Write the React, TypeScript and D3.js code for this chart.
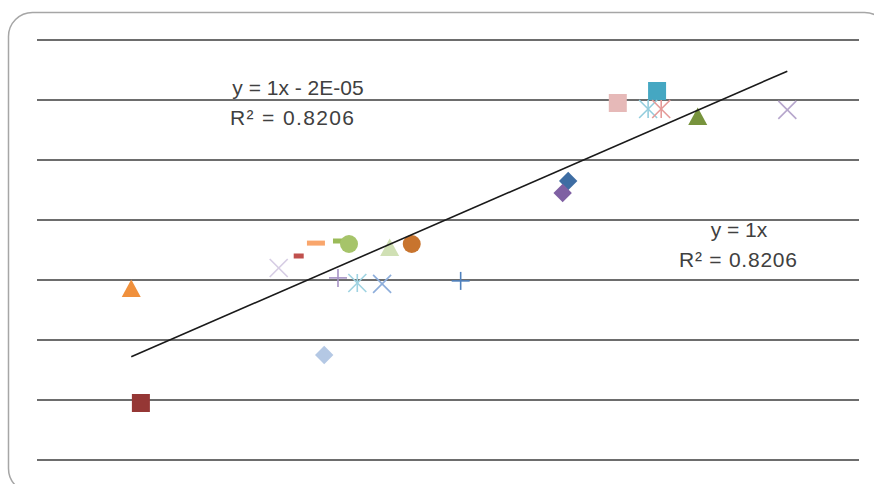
import React, { useEffect, useRef } from 'react';
import * as d3 from 'd3';

// one point per series
const xValues = [-0.056, -0.042, 0.158, 0.187, 0.212, 0.244, 0.26, 0.319, 0.351, 0.244, 0.272, 0.308, 0.422, 0.224, 0.578, 0.57, 0.65, 0.707, 0.694, 0.713, 0.766, 0.896];
const yValues = [0.17, -0.21, 0.24, 0.28, 0.323, 0.33, 0.32, 0.307, 0.32, 0.207, 0.19, 0.187, 0.197, -0.05, 0.53, 0.49, 0.79, 0.83, 0.77, 0.77, 0.743, 0.767];
const yTicks = [-0.4, -0.2, 0, 0.2, 0.4, 0.6, 0.8, 1.0];
const trendSlope = 1;
const trendIntercept = -0.00002;
const labelTop = ['y = 1x - 2E-05', 'R² = 0.8206'];
const labelRight = ['y = 1x', 'R² = 0.8206'];

// marker styles per series
const markers = ['triangle', 'square', 'x', 'dash', 'dash', 'dash', 'circle', 'triangle', 'circle', 'plus', 'star', 'x', 'plus', 'diamond', 'diamond', 'diamond', 'square', 'square', 'star', 'star', 'triangle', 'x'];
const colors = ['#f0903c', '#953735', '#d6cde4', '#c0504d', '#f9a66c', '#9bbb59', '#a6c46a', '#d0e0b4', '#c8742e', '#a592c4', '#9fd3e2', '#8eaedb', '#4f81bd', '#b4c8e4', '#3e6da3', '#7f60a3', '#e6b9b8', '#45a7c2', '#93cddd', '#e59a98', '#77933c', '#b6a6cc'];
const dashWidths: Record<number, number> = { 3: 10, 4: 18, 5: 10 };

const App = () => {
  const ref = useRef<SVGSVGElement>(null);

  useEffect(() => {
    const svg = d3.select(ref.current);
    svg.selectAll('*').remove();

    const x = d3.scaleLinear().domain([-0.2, 1.0]).range([32, 859]);
    const y = d3.scaleLinear().domain([-0.4, 1.0]).range([460, 40]);

    // chart frame
    svg.append('rect')
      .attr('x', 8.5).attr('y', 12.5)
      .attr('width', 880).attr('height', 480)
      .attr('rx', 24)
      .attr('fill', 'white')
      .attr('stroke', '#a6a6a6')
      .attr('stroke-width', 1.5);

    svg.append('g')
      .selectAll('line')
      .data(yTicks)
      .join('line')
      .attr('x1', 37).attr('x2', 859)
      .attr('y1', d => y(d)).attr('y2', d => y(d))
      .attr('stroke', '#3c3c3c')
      .attr('stroke-width', 1.4);

    const pts = xValues.map((v, i) => ({ x: v, y: yValues[i], m: markers[i], c: colors[i], i }));

    const g = svg.append('g');
    pts.forEach(p => {
      const cx = x(p.x), cy = y(p.y);
      const s = g.append('g').attr('transform', `translate(${cx},${cy})`);
      if (p.m === 'triangle') {
        s.append('path').attr('d', 'M0,-9.5L9.5,8L-9.5,8Z').attr('fill', p.c);
      } else if (p.m === 'square') {
        s.append('rect').attr('x', -9).attr('y', -9).attr('width', 18).attr('height', 18).attr('fill', p.c);
      } else if (p.m === 'circle') {
        s.append('circle').attr('r', 9).attr('fill', p.c);
      } else if (p.m === 'diamond') {
        s.append('rect').attr('x', -6.5).attr('y', -6.5).attr('width', 13).attr('height', 13)
          .attr('transform', 'rotate(45)').attr('fill', p.c);
      } else if (p.m === 'dash') {
        const w = dashWidths[p.i] || 10;
        s.append('rect').attr('x', -w / 2).attr('y', -2.5).attr('width', w).attr('height', 5).attr('fill', p.c);
      } else {
        const r = 9;
        const segs: number[][] = [];
        if (p.m === 'x' || p.m === 'star') segs.push([-r, -r, r, r], [-r, r, r, -r]);
        if (p.m === 'plus') segs.push([-r, 0, r, 0], [0, -r, 0, r]);
        if (p.m === 'star') segs.push([0, -r, 0, r]);
        segs.forEach(l => {
          s.append('line').attr('x1', l[0]).attr('y1', l[1]).attr('x2', l[2]).attr('y2', l[3])
            .attr('stroke', p.c).attr('stroke-width', 1.6);
        });
      }
    });

    // linear trendline over data extent
    const [x0, x1] = d3.extent(xValues) as [number, number];
    const line = d3.line<number>().x(d => x(d)).y(d => y(trendSlope * d + trendIntercept));
    svg.append('path')
      .datum([x0, x1])
      .attr('d', line)
      .attr('fill', 'none')
      .attr('stroke', '#1a1a1a')
      .attr('stroke-width', 1.6);

    const addLabel = (text: string, cx: number, base: number, len?: number) => {
      const t = svg.append('text')
        .attr('x', cx)
        .attr('y', base)
        .attr('text-anchor', 'middle')
        .attr('font-family', '"Liberation Sans", Arial, sans-serif')
        .attr('font-size', 21)
        .attr('fill', '#404040')
        .text(text);
      if (len) t.attr('textLength', len).attr('lengthAdjust', 'spacing');
    };
    addLabel(labelTop[0], 298, 95);
    addLabel(labelTop[1], 292, 125, 124);
    addLabel(labelRight[0], 739, 237);
    addLabel(labelRight[1], 738, 267, 118);
  }, []);

  return (
    <svg ref={ref} width={874} height={484} style={{ position: 'absolute', left: 0, top: 0 }} />
  );
};

export default App;
